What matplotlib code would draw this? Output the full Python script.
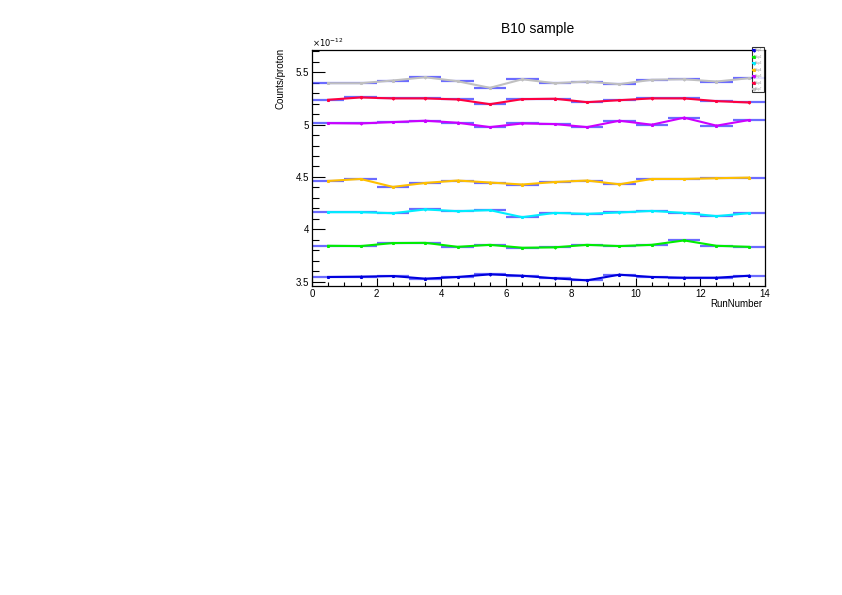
import numpy as np
import matplotlib
matplotlib.use("Agg")
import matplotlib.pyplot as plt
from matplotlib.ticker import MultipleLocator, FuncFormatter

plt.rcParams["font.family"] = ["Liberation Sans", "DejaVu Sans"]

# bin centres / edges of the run histogram
run_centers = [0.5, 1.5, 2.5, 3.5, 4.5, 5.5, 6.5, 7.5, 8.5, 9.5, 10.5, 11.5, 12.5, 13.5]
bin_lo = [0, 1, 2, 3, 4, 5, 6, 7, 8, 9, 10, 11, 12, 13]
bin_hi = [1, 2, 3, 4, 5, 6, 7, 8, 9, 10, 11, 12, 13, 14]

# counts per proton, in units of 1e-12
strip1 = [3.545, 3.548, 3.554, 3.529, 3.545, 3.570, 3.557, 3.532, 3.513, 3.567, 3.545, 3.538, 3.538, 3.557]
strip2 = [3.843, 3.840, 3.869, 3.871, 3.833, 3.852, 3.824, 3.828, 3.852, 3.840, 3.852, 3.894, 3.843, 3.833]
strip3 = [4.164, 4.164, 4.154, 4.190, 4.173, 4.183, 4.116, 4.157, 4.148, 4.161, 4.176, 4.157, 4.126, 4.154]
strip4 = [4.462, 4.481, 4.405, 4.443, 4.466, 4.447, 4.428, 4.452, 4.466, 4.430, 4.481, 4.481, 4.488, 4.494]
strip5 = [5.014, 5.011, 5.024, 5.037, 5.018, 4.976, 5.011, 5.005, 4.976, 5.037, 4.999, 5.066, 4.990, 5.043]
strip6 = [5.237, 5.259, 5.250, 5.250, 5.240, 5.195, 5.243, 5.247, 5.214, 5.233, 5.250, 5.250, 5.224, 5.211]
strip7 = [5.395, 5.395, 5.421, 5.452, 5.414, 5.351, 5.433, 5.395, 5.411, 5.386, 5.428, 5.433, 5.411, 5.443]
stat_err = 0.012

series = [strip1, strip2, strip3, strip4, strip5, strip6, strip7]
names = ["Strip1", "Strip2", "Strip3", "Strip4", "Strip5", "Strip6", "Strip7"]
colors = ["#0000dd", "#00ee00", "#00eeff", "#ffc000", "#cc00ff", "#ff0040", "#c0c0c0"]

fig = plt.figure(figsize=(8.42, 5.95), dpi=100)
ax = fig.add_axes([312 / 842, 1 - 286 / 595, 453 / 842, (286 - 49.5) / 595])

handles = []
for vals, col, name in zip(series, colors, names):
    # histogram bins drawn in blue
    ax.hlines(vals, bin_lo, bin_hi, color="#3a3aff", lw=1.6, alpha=0.75, zorder=2)
    # graph through the bin centres
    h = ax.errorbar(run_centers, vals, yerr=stat_err, color=col, lw=1.5,
                    elinewidth=0.9, capsize=0, marker="s", ms=1.2, zorder=3,
                    label=name)
    handles.append(h)

ax.set_xlim(0, 14)
ax.set_ylim(3.459, 5.717)

ax.xaxis.set_major_locator(MultipleLocator(2))
ax.xaxis.set_minor_locator(MultipleLocator(0.5))
ax.yaxis.set_major_locator(MultipleLocator(0.5))
ax.yaxis.set_minor_locator(MultipleLocator(0.1))
ax.yaxis.set_major_formatter(FuncFormatter(lambda v, p: f"{v:g}"))
ax.tick_params(which="both", direction="in", top=False, right=False,
               labelsize=7, width=0.8, pad=2)
ax.tick_params(axis="y", which="major", length=9.5)
ax.tick_params(axis="y", which="minor", length=4.8)
ax.tick_params(axis="x", which="major", length=5.5)
ax.tick_params(axis="x", which="minor", length=3.1)
for sp in ax.spines.values():
    sp.set_linewidth(0.9)

fig.text(538 / 842, 1 - 33.5 / 595, "B10 sample", ha="center", va="baseline", fontsize=10)
fig.text(312 / 842, 1 - 47 / 595, r"$\times10^{-12}$", ha="left", va="baseline", fontsize=6)
fig.text(762 / 842, 1 - 307 / 595, "RunNumber", ha="right", va="baseline", fontsize=7)
fig.text(280 / 842, 1 - 48 / 595, "Counts/proton", ha="center", va="top",
         rotation=90, fontsize=7)

leg = ax.legend(handles=handles, loc="upper left", bbox_to_anchor=(752 / 842, 1 - 47 / 595),
                bbox_transform=fig.transFigure, fontsize=2, frameon=True, fancybox=False,
                shadow=False, borderpad=0.4, labelspacing=0.9, handlelength=0.4,
                handletextpad=0.4, borderaxespad=0)
leg.get_frame().set_edgecolor("black")
leg.get_frame().set_linewidth(0.8)
for t in leg.get_texts():
    t.set_color("#888888")

fig.savefig("out.png", dpi=100)
